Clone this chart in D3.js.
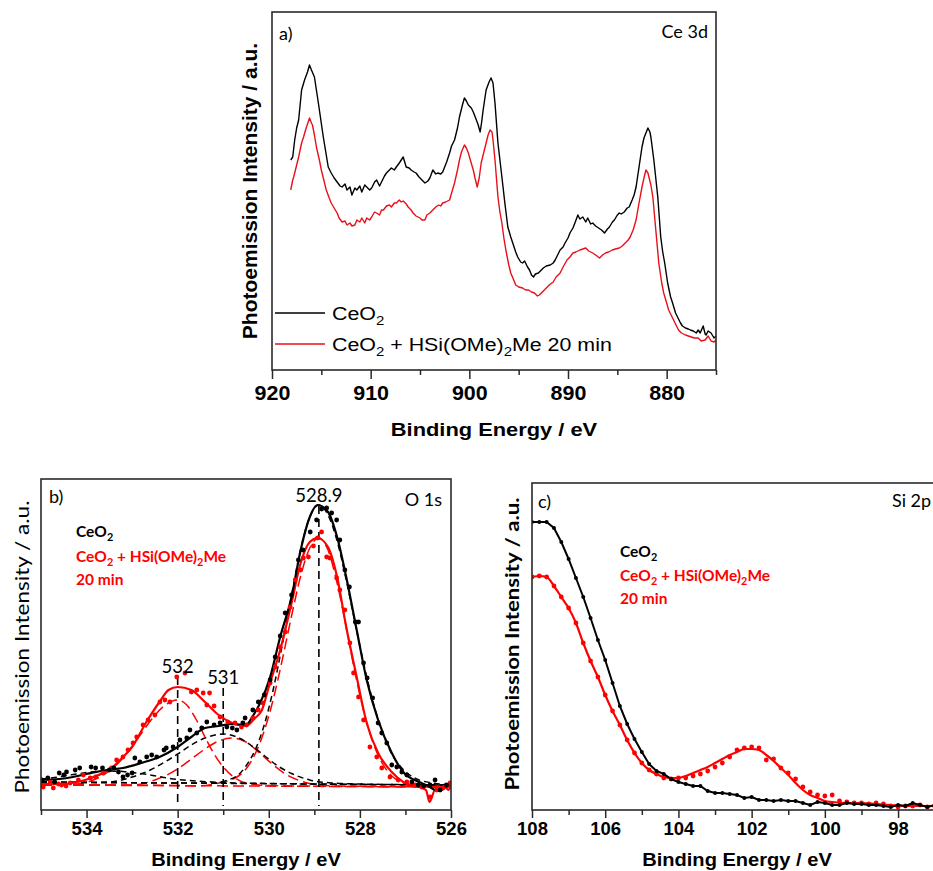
<!DOCTYPE html>
<html>
<head>
<meta charset="utf-8">
<script src="https://cdn.jsdelivr.net/npm/d3@7"></script>
<style>
  body { margin: 0; background: #fff; }
  svg { display: block; }
</style>
</head>
<body>
<svg id="chart" width="933" height="871"></svg>
<script>
// ---------------- Ce 3d spectra: [binding energy (eV), intensity (a.u.)] ----------------
const ce3dCeO2 = [
  [918.1,210],[917.9,213],[917.7,230],[917.5,242],[917.3,250],[917.0,280],[916.7,290],[916.4,298],
  [916.2,305],[916.0,300],[915.7,293],[915.3,267],[914.8,233],[914.3,203],[914.0,197],[913.7,192],
  [913.4,188],[913.1,184],[912.9,183],[912.6,186],[912.4,180],[912.1,183],[911.9,175],[911.6,182],
  [911.4,180],[911.1,184],[910.9,178],[910.6,185],[910.4,183],[910.1,180],[909.9,182],[909.6,188],
  [909.4,190],[909.1,184],[908.9,188],[908.6,194],[908.4,197],[908.1,200],[907.9,202],[907.6,200],
  [907.4,203],[907.1,207],[906.7,213],[906.4,203],[906.1,202],[905.9,200],[905.6,198],[905.4,197],
  [905.1,193],[904.8,190],[904.5,187],[904.2,189],[904.0,192],[903.7,200],[903.4,196],[903.2,197],
  [902.9,196],[902.7,198],[902.5,203],[902.3,208],[902.0,217],[901.8,224],[901.5,230],[901.2,242],
  [901.0,253],[900.7,265],[900.5,272],[900.3,269],[900.1,265],[899.8,262],[899.6,258],[899.4,253],
  [899.1,245],[898.9,238],[898.75,248],[898.6,260],[898.3,280],[898.0,288],[897.8,292],[897.6,287],
  [897.4,267],[897.1,227],[896.9,210],[896.7,193],[896.4,167],[896.1,143],[895.8,133],[895.6,127],
  [895.3,118],[895.1,113],[894.8,108],[894.6,107],[894.4,109],[894.1,103],[893.9,100],[893.7,95],
  [893.5,93],[893.3,96],[893.0,97],[892.8,99],[892.5,102],[892.2,104],[891.8,105],[891.5,107],
  [891.3,110],[891.0,116],[890.8,120],[890.5,123],[890.3,127],[890.0,132],[889.8,137],[889.5,142],
  [889.3,147],[889.0,155],[888.8,151],[888.5,153],[888.2,148],[888.0,152],[887.7,146],[887.5,147],
  [887.2,144],[886.9,142],[886.6,140],[886.3,137],[886.0,141],[885.8,143],[885.5,148],[885.3,150],
  [885.0,155],[884.8,157],[884.6,156],[884.3,158],[884.0,162],[883.8,163],[883.5,170],[883.3,175],
  [883.1,183],[882.8,203],[882.5,223],[882.3,232],[882.1,237],[881.9,242],[881.7,238],[881.6,233],
  [881.3,210],[880.9,173],[880.6,133],[880.4,118],[880.2,107],[879.9,87],[879.6,73],[879.4,67],
  [879.1,57],[878.8,51],[878.6,47],[878.4,44],[878.1,42],[877.8,41],[877.6,40],[877.3,39],
  [877.0,37],[876.8,40],[876.6,37],[876.3,44],[876.1,36],[876.0,35],[875.8,39],[875.5,37],
  [875.2,32],[875.0,34]
];
const ce3dTreated = [
  [918.1,180],[917.9,190],[917.8,193],[917.5,205],[917.3,213],[917.0,227],[916.8,233],[916.6,240],
  [916.4,246],[916.2,252],[916.0,247],[915.9,245],[915.7,235],[915.5,223],[915.2,210],[915.0,200],
  [914.7,188],[914.5,180],[914.2,172],[914.0,167],[913.7,162],[913.4,157],[913.2,152],[912.9,148],
  [912.6,149],[912.4,145],[912.1,147],[911.9,144],[911.6,145],[911.4,150],[911.1,148],[910.9,152],
  [910.6,147],[910.4,152],[910.1,150],[909.9,153],[909.6,158],[909.4,157],[909.1,155],[908.9,160],
  [908.7,160],[908.4,164],[908.1,165],[907.9,163],[907.6,167],[907.4,167],[907.1,170],[906.9,168],
  [906.7,169],[906.4,166],[906.2,163],[905.9,160],[905.7,157],[905.4,154],[905.0,152],[904.8,150],
  [904.5,150],[904.3,155],[904.0,157],[903.7,160],[903.4,163],[903.1,165],[902.9,164],[902.7,167],
  [902.4,168],[902.0,170],[901.8,177],[901.5,187],[901.2,200],[901.0,210],[900.8,218],[900.5,225],
  [900.3,222],[900.1,217],[899.9,210],[899.6,200],[899.4,191],[899.2,183],[899.0,192],[898.8,207],
  [898.6,215],[898.3,227],[898.1,235],[897.9,240],[897.7,238],[897.6,230],[897.4,210],[897.1,173],
  [896.9,158],[896.7,147],[896.5,132],[896.3,120],[896.0,105],[895.8,97],[895.5,90],[895.3,85],
  [895.0,83],[894.6,82],[894.3,80],[894.0,80],[893.7,78],[893.4,77],[893.1,74],[892.9,75],
  [892.6,78],[892.2,82],[891.9,85],[891.5,88],[891.2,93],[890.8,97],[890.5,103],[890.1,110],
  [889.8,113],[889.5,117],[889.2,118],[888.8,120],[888.5,121],[888.2,122],[887.9,119],[887.5,117],
  [887.2,115],[886.8,112],[886.5,115],[886.2,117],[885.9,118],[885.5,120],[885.2,121],[884.8,122],
  [884.5,124],[884.2,127],[883.9,130],[883.7,133],[883.4,140],[883.1,150],[882.8,167],[882.5,183],
  [882.3,192],[882.1,200],[881.9,197],[881.8,193],[881.6,185],[881.4,173],[881.1,140],[880.8,107],
  [880.5,87],[880.3,77],[880.0,67],[879.8,60],[879.5,54],[879.3,50],[879.0,44],[878.8,40],
  [878.5,37],[878.1,35],[877.8,34],[877.5,33],[877.2,32],[876.8,32],[876.5,29],[876.1,30],
  [875.8,34],[875.5,29],[875.2,28],[875.0,30]
];
const ce3dMajorTicks = [920, 910, 900, 890, 880];
const ce3dMinorTicks = [915, 905, 895, 885, 875];

// ---------------- O 1s: measured points and peak fits ----------------
const o1sCeO2Points = [
  [534.98,28],[534.85,30],[534.7,26],[534.6,35],[534.5,33],[534.44,36],[534.25,38],[534.15,40],
  [533.9,41],[533.8,40],[533.65,40],[533.5,38],[533.4,40],[533.3,36],[533.2,31],[533.1,33],
  [533.0,35],[532.94,50],[532.83,46],[532.68,51],[532.57,53],[532.46,51],[532.3,58],[532.25,60],
  [532.1,61],[531.95,68],[531.8,70],[531.73,78],[531.58,75],[531.47,80],[531.36,86],[531.2,83],
  [531.07,85],[530.92,81],[530.8,80],[530.7,78],[530.57,85],[530.52,90],[530.35,98],[530.23,106],
  [530.1,113],[529.97,128],[529.86,151],[529.75,172],[529.64,195],[529.5,213],[529.35,248],[529.25,258],
  [529.09,276],[528.95,288],[528.84,299],[528.73,300],[528.62,295],[528.51,288],[528.44,268],[528.33,238],
  [528.23,221],[528.1,186],[528.03,186],[527.92,145],[527.84,130],[527.72,110],[527.6,85],[527.52,75],
  [527.41,65],[527.3,43],[527.19,41],[527.08,36],[526.97,33],[526.86,26],[526.72,23],[526.6,22],
  [526.46,23],[526.35,28],[526.24,18],[526.1,23]
];
const o1sTreatedPoints = [
  [534.95,21],[534.8,26],[534.73,20],[534.62,24],[534.55,23],[534.45,22],[534.36,25],[534.18,28],
  [534.07,33],[533.92,30],[533.8,31],[533.64,35],[533.45,40],[533.34,48],[533.2,51],[533.09,58],
  [532.98,65],[532.9,71],[532.76,83],[532.65,88],[532.5,93],[532.39,106],[532.28,108],[532.17,106],
  [532.02,131],[531.84,135],[531.7,116],[531.58,118],[531.44,115],[531.36,103],[531.3,115],[531.2,102],
  [531.07,91],[530.9,86],[530.74,85],[530.6,81],[530.49,83],[530.35,90],[530.23,98],[530.13,105],
  [529.97,125],[529.86,141],[529.75,161],[529.64,176],[529.53,201],[529.42,228],[529.3,238],[529.24,250],
  [529.13,251],[529.02,262],[528.93,270],[528.84,276],[528.73,251],[528.66,250],[528.51,230],[528.44,218],
  [528.33,198],[528.22,165],[528.14,135],[528.03,111],[527.92,88],[527.78,61],[527.63,51],[527.52,40],
  [527.34,31],[527.16,28],[526.97,26],[526.79,23],[526.64,21],[526.46,11],[526.31,18],[526.17,20],
  [526.02,25]
];
const o1sCeO2Envelope = [
  [535.0,28],[534.6,29],[534.3,31],[534.0,34],[533.55,38],[533.2,40],[532.8,45],[532.4,51],
  [532.0,61],[531.7,71],[531.4,80],[531.1,82],[530.8,84],[530.5,83],[530.35,92],[530.2,104],
  [529.97,131],[529.75,171],[529.5,211],[529.3,258],[529.1,291],[528.93,303],[528.7,296],[528.5,271],
  [528.3,231],[528.07,178],[527.85,128],[527.6,88],[527.3,55],[527.05,36],[526.7,26],[526.5,22],
  [526.35,18],[526.25,17],[526.1,22],[526.0,26]
];
const o1sTreatedEnvelope = [
  [535.0,24],[534.6,24],[534.2,26],[533.9,30],[533.6,36],[533.4,42],[533.2,51],[533.0,61],
  [532.7,85],[532.4,106],[532.2,118],[532.0,121],[531.7,118],[531.4,106],[531.1,93],[530.8,85],
  [530.5,82],[530.3,90],[530.15,98],[530.0,121],[529.75,158],[529.5,205],[529.3,245],[529.1,266],
  [528.93,270],[528.7,261],[528.5,231],[528.3,181],[528.07,131],[527.85,85],[527.6,55],[527.3,36],
  [527.05,26],[526.7,21],[526.55,18],[526.47,6],[526.35,18],[526.25,18],[526.15,22],[526.05,18],
  [526.0,24]
];
// fitted components, CeO2 (short dashes)
const o1sCeO2Background = [[535.0,26],[526.0,23]];
const o1sCeO2Peak533 = [
  [535.0,29],[534.7,30.5],[534.4,32.7],[534.1,34.8],[533.8,36.4],[533.5,37],[533.2,36.5],[532.9,35],
  [532.6,33],[532.3,30.5],[532.0,28.5],[531.6,27],[531.0,25.5],[530.0,24.5],[526.0,23]
];
const o1sCeO2Peak531 = [
  [535.0,26],[534.0,25.5],[533.5,26],[533.0,31],[532.6,38],[532.3,45.5],[532.0,54],[531.7,63],
  [531.4,70],[531.0,74],[530.7,71],[530.4,63],[530.1,52.5],[529.8,42],[529.5,34.5],[529.1,28],
  [528.6,25],[528.0,24],[526.0,23]
];
const o1sCeO2Peak5289 = [
  [535.0,26],[532.0,25],[531.6,25],[531.2,25],[530.9,28],[530.7,32],[530.5,42],[530.3,58],
  [530.1,83],[529.9,119],[529.7,164],[529.5,213],[529.3,259],[529.1,291],[528.9,303],[528.7,293],
  [528.5,267],[528.3,228],[528.1,184],[527.9,141],[527.7,104],[527.5,75],[527.3,54],[527.1,41],
  [526.8,30],[526.4,25],[526.0,23]
];
// fitted components, treated sample (long dashes)
const o1sTreatedBackground = [[535.0,23],[526.0,21]];
const o1sTreatedPeak532 = [
  [535.0,23],[534.2,24],[533.8,29],[533.5,37],[533.2,50],[532.9,68],[532.6,87],[532.3,102],
  [532.0,108],[531.8,103],[531.6,89],[531.4,71],[531.2,54],[531.0,41],[530.8,32],[530.5,25],
  [530.0,22.5],[526.0,21]
];
const o1sTreatedPeak531 = [
  [535.0,23],[533.0,23],[532.5,28],[532.0,39],[531.7,49],[531.4,59],[531.1,67],[530.8,70],
  [530.5,66],[530.2,55],[529.9,43],[529.6,33],[529.3,27],[528.9,23],[528.5,22],[526.0,21]
];
const o1sTreatedPeak5289 = [
  [535.0,23],[532.0,22.5],[531.6,22],[531.2,24],[530.9,27],[530.7,31],[530.5,39],[530.3,54],
  [530.1,77],[529.9,109],[529.7,149],[529.5,192],[529.3,232],[529.1,260],[528.9,270],[528.7,258],
  [528.5,225],[528.3,181],[528.1,134],[527.9,94],[527.7,64],[527.5,44],[527.3,32],[527.1,26],
  [526.8,22],[526.0,21]
];
const o1sPeakLabels = ["532", "531", "528.9"];
const o1sPeakEnergies = [532, 531, 528.9];
const o1sMajorTicks = [534, 532, 530, 528, 526];
const o1sMinorTicks = [535, 533, 531, 529, 527];

// ---------------- Si 2p ----------------
const si2pEnergy = [
  108.0,107.8,107.6,107.4,107.2,107.0,106.8,106.6,106.4,106.2,106.0,105.8,105.6,105.4,
  105.2,105.0,104.8,104.6,104.4,104.2,104.0,103.8,103.6,103.4,103.2,103.0,102.8,102.6,
  102.4,102.2,102.0,101.8,101.6,101.4,101.2,101.0,100.8,100.6,100.4,100.2,100.0,99.8,
  99.6,99.4,99.2,99.0,98.8,98.6,98.4,98.2,98.0,97.8,97.6,97.4,97.2,97.0
];
const si2pCeO2 = [
  286,286,286,280,266,249,230,211,190,168,148,125,102,84,
  69,56,44,37,34,29,26,24,22,22,17,15,15,14,
  13,10,11,8,8,7,8,7,7,5,3,6,5,3,
  3,5,4,4,3,3,2,1,3,2,5,3,1,3
];
const si2pTreated = [
  231,232,231,222,211,200,185,165,147,131,113,97,83,68,
  55,45,38,34,30,29,30,30,32,34,37,41,45,51,
  58,60,61,60,48,49,40,35,29,21,16,13,12,13,
  7,6,5,5,4,5,4,2,1,2,2,3,1,2
];
const si2pTreatedFit = [
  [108.0,231],[107.8,232],[107.6,231],[107.4,222],[107.2,211],[107.0,200],[106.8,185],[106.6,165],
  [106.4,147],[106.2,131],[106.0,113],[105.8,97],[105.6,83],[105.4,68],[105.2,55],[105.0,45],
  [104.8,38],[104.6,34],[104.4,31],[104.2,30],[104.0,30],[103.8,32],[103.6,35],[103.4,38],
  [103.2,41],[103.0,45],[102.8,49],[102.6,53],[102.4,56],[102.2,59],[102.0,59],[101.8,58],
  [101.6,53],[101.4,47],[101.2,40],[101.0,33],[100.8,25],[100.6,18],[100.4,13],[100.2,10],
  [100.0,7],[99.8,6],[99.4,5],[99.0,5],[98.6,4],[98.2,3],[97.8,2],[97.4,2],[97.0,2]
];
const si2pMajorTicks = [108, 106, 104, 102, 100, 98];
const si2pMinorTicks = [107, 105, 103, 101, 99, 97];

const legendCeO2 = "CeO_2";
const legendTreated = "CeO_2 + HSi(OMe)_2Me 20 min";
const legendTreatedLine1 = "CeO_2 + HSi(OMe)_2Me";
const legendTreatedLine2 = "20 min";
const yTitle = "Photoemission Intensity / a.u.";
const xTitle = "Binding Energy / eV";

// ---------------- drawing ----------------
const RED = "#ff0000";
const RED_A = "#e8101a";
const FRAME = "#2a2a2a";
const ARIAL = "'Liberation Sans', Arial, Helvetica, sans-serif";
const CALI = "Lato, 'Open Sans', 'Noto Sans', sans-serif";

const svg = d3.select("#chart");
svg.append("rect").attr("width", 933).attr("height", 871).attr("fill", "#fff");

// text with "_2" style subscripts
function richText(g, str, o) {
  const size = o.size;
  let tf = `translate(${o.x},${o.y})`;
  if (o.rotate) tf += ` rotate(${o.rotate})`;
  if (o.sx) tf += ` scale(${o.sx},1)`;
  const t = g.append("text")
    .attr("transform", tf)
    .attr("font-family", o.family)
    .attr("font-size", size)
    .attr("font-weight", o.weight || "normal")
    .attr("fill", o.fill || "#000")
    .attr("text-anchor", o.anchor || "start");
  const subDy = size * 0.26;
  let lowered = false;
  str.split(/(_\d)/).filter(s => s.length).forEach(tok => {
    if (tok[0] === "_") {
      t.append("tspan").attr("dy", subDy).attr("font-size", size * 0.7).text(tok.slice(1));
      lowered = true;
    } else {
      const s = t.append("tspan").text(tok);
      if (lowered) { s.attr("dy", -subDy); lowered = false; }
    }
  });
  if (o.length) t.attr("textLength", o.length).attr("lengthAdjust", "spacingAndGlyphs");
  return t;
}

function xAxis(g, x, y0, major, minor, o) {
  const gMin = g.append("g").attr("transform", `translate(0,${y0})`)
    .call(d3.axisBottom(x).tickValues(minor).tickSize(o.minorLen).tickFormat(""));
  const gMaj = g.append("g").attr("transform", `translate(0,${y0})`)
    .call(d3.axisBottom(x).tickValues(major).tickSize(o.majorLen).tickFormat(d3.format("d")));
  [gMin, gMaj].forEach(a => {
    a.select(".domain").remove();
    a.selectAll("line").attr("stroke", FRAME).attr("stroke-width", 1.5);
  });
  gMaj.selectAll("text")
    .attr("y", o.labelY).attr("dy", null)
    .attr("font-family", ARIAL).attr("font-weight", "bold")
    .attr("font-size", o.fontSize).attr("fill", "#000")
    .attr("transform", `scale(${o.sx},1)`);
}

function frame(g, x0, x1, y0, y1) {
  g.append("rect").attr("x", x0).attr("y", y0).attr("width", x1 - x0).attr("height", y1 - y0)
    .attr("fill", "none").attr("stroke", FRAME).attr("stroke-width", 1.6);
}

function clip(id, x0, x1, y0, y1) {
  svg.append("clipPath").attr("id", id).append("rect")
    .attr("x", x0).attr("y", y0).attr("width", x1 - x0).attr("height", y1 - y0);
  return `url(#${id})`;
}

// ===== a) Ce 3d =====
{
  const L = 272, R = 716, T = 12, B = 370;
  const x = d3.scaleLinear().domain([920, 875]).range([L, R]);
  const y = d3.scaleLinear().domain([0, 358]).range([B, T]);
  const g = svg.append("g");
  const data = g.append("g").attr("clip-path", clip("clipA", L, R, T, B));
  const line = d3.line().x(d => x(d[0])).y(d => y(d[1]));
  data.append("path").datum(ce3dTreated).attr("d", line)
    .attr("fill", "none").attr("stroke", RED_A).attr("stroke-width", 1.4).attr("stroke-linejoin", "round");
  data.append("path").datum(ce3dCeO2).attr("d", line)
    .attr("fill", "none").attr("stroke", "#000").attr("stroke-width", 1.4).attr("stroke-linejoin", "round");

  xAxis(g, x, B, ce3dMajorTicks, ce3dMinorTicks, { majorLen: 9, minorLen: 5, labelY: 30, fontSize: 19.5, sx: 1.1 });
  frame(g, L, R, T, B);

  richText(g, xTitle, { x: (L + R) / 2, y: 436, size: 19, family: ARIAL, weight: "bold", anchor: "middle", sx: 1.15 });
  richText(g, yTitle, { x: 257, y: (T + B) / 2, size: 21, family: ARIAL, weight: "bold", anchor: "middle", rotate: -90 });
  richText(g, "a)", { x: 279, y: 40, size: 18, family: CALI });
  richText(g, "Ce 3d", { x: 708, y: 38, size: 18, family: CALI, anchor: "end" });

  // legend
  const legend = [[legendCeO2, "#000", 313], [legendTreated, RED_A, 344]];
  legend.forEach(([label, color, ly]) => {
    g.append("line").attr("x1", 275).attr("x2", 325).attr("y1", ly).attr("y2", ly)
      .attr("stroke", color).attr("stroke-width", 1.5);
    richText(g, label, { x: 332, y: ly + 7, size: 18.6, family: ARIAL, sx: 1.15 });
  });
}

// ===== b) O 1s =====
{
  const L = 41, R = 451, T = 479, B = 810;
  const x = d3.scaleLinear().domain([535, 526]).range([L, R]);
  const y = d3.scaleLinear().domain([-2, 329]).range([B, T]);
  const g = svg.append("g");
  const data = g.append("g").attr("clip-path", clip("clipB", L, R, T, B));
  const smooth = d3.line().x(d => x(d[0])).y(d => y(d[1])).curve(d3.curveMonotoneX);

  const shortDash = [o1sCeO2Background, o1sCeO2Peak533, o1sCeO2Peak531, o1sCeO2Peak5289];
  const longDash = [o1sTreatedBackground, o1sTreatedPeak532, o1sTreatedPeak531, o1sTreatedPeak5289];
  longDash.forEach(c => data.append("path").datum(c).attr("d", smooth)
    .attr("fill", "none").attr("stroke", RED).attr("stroke-width", 1.5).attr("stroke-dasharray", "11,5"));
  shortDash.forEach(c => data.append("path").datum(c).attr("d", smooth)
    .attr("fill", "none").attr("stroke", "#000").attr("stroke-width", 1.5).attr("stroke-dasharray", "6,4"));

  // peak position markers
  const labelBaseline = { "532": 673, "531": 684, "528.9": 502 };
  o1sPeakEnergies.forEach((e, i) => {
    const lbl = o1sPeakLabels[i];
    data.append("line").attr("x1", x(e)).attr("x2", x(e))
      .attr("y1", labelBaseline[lbl] + 4).attr("y2", B - 4)
      .attr("stroke", "#000").attr("stroke-width", 1.6).attr("stroke-dasharray", "8,5");
    richText(g, lbl, { x: x(e), y: labelBaseline[lbl], size: 18.5, family: CALI, anchor: "middle" });
  });

  data.append("path").datum(o1sTreatedEnvelope).attr("d", smooth)
    .attr("fill", "none").attr("stroke", RED).attr("stroke-width", 2.2);
  data.append("path").datum(o1sCeO2Envelope).attr("d", smooth)
    .attr("fill", "none").attr("stroke", "#000").attr("stroke-width", 2.2);

  data.selectAll("circle.t").data(o1sTreatedPoints).join("circle").attr("class", "t")
    .attr("cx", d => x(d[0])).attr("cy", d => y(d[1])).attr("r", 2.4).attr("fill", RED);
  data.selectAll("circle.c").data(o1sCeO2Points).join("circle").attr("class", "c")
    .attr("cx", d => x(d[0])).attr("cy", d => y(d[1])).attr("r", 2.4).attr("fill", "#000");

  xAxis(g, x, B, o1sMajorTicks, o1sMinorTicks, { majorLen: 8, minorLen: 5, labelY: 25, fontSize: 18.5, sx: 1.0 });
  frame(g, L, R, T, B);

  richText(g, xTitle, { x: (L + R) / 2, y: 866, size: 18.6, family: ARIAL, weight: "bold", anchor: "middle", sx: 1.08 });
  richText(g, yTitle, { x: 29, y: 647, size: 19, family: CALI, anchor: "middle", rotate: -90, length: 293 });
  richText(g, "b)", { x: 49, y: 503, size: 18, family: CALI });
  richText(g, "O 1s", { x: 442, y: 506, size: 18, family: CALI, anchor: "end" });

  richText(g, legendCeO2, { x: 76, y: 537, size: 15.5, family: CALI, weight: "bold" });
  richText(g, legendTreatedLine1, { x: 76, y: 562, size: 15.5, family: CALI, weight: "bold", fill: RED });
  richText(g, legendTreatedLine2, { x: 76, y: 585, size: 15.5, family: CALI, weight: "bold", fill: RED });
}

// ===== c) Si 2p =====
{
  const L = 532, R = 942, T = 483, B = 810;
  const x = d3.scaleLinear().domain([108, 96.8]).range([L, R]);
  const y = d3.scaleLinear().domain([-2, 325]).range([B, T]);
  const g = svg.append("g");
  const data = g.append("g").attr("clip-path", clip("clipC", L, R, T, B));
  const ceo2 = si2pEnergy.map((e, i) => [e, si2pCeO2[i]]);
  const treated = si2pEnergy.map((e, i) => [e, si2pTreated[i]]);

  data.selectAll("circle.t").data(treated).join("circle").attr("class", "t")
    .attr("cx", d => x(d[0])).attr("cy", d => y(d[1])).attr("r", 2.4).attr("fill", RED);
  data.append("path").datum(si2pTreatedFit)
    .attr("d", d3.line().x(d => x(d[0])).y(d => y(d[1])).curve(d3.curveMonotoneX))
    .attr("fill", "none").attr("stroke", RED).attr("stroke-width", 2.2);
  data.append("path").datum(ceo2)
    .attr("d", d3.line().x(d => x(d[0])).y(d => y(d[1])))
    .attr("fill", "none").attr("stroke", "#000").attr("stroke-width", 2);
  data.selectAll("circle.c").data(ceo2).join("circle").attr("class", "c")
    .attr("cx", d => x(d[0])).attr("cy", d => y(d[1])).attr("r", 2).attr("fill", "#000");

  xAxis(g, x, B, si2pMajorTicks, si2pMinorTicks, { majorLen: 8, minorLen: 5, labelY: 25, fontSize: 18.5, sx: 1.0 });
  frame(g, L, R, T, B);

  richText(g, xTitle, { x: (L + R) / 2, y: 866, size: 18.6, family: ARIAL, weight: "bold", anchor: "middle", sx: 1.08 });
  richText(g, yTitle, { x: 519, y: 644, size: 19, family: CALI, weight: "bold", anchor: "middle", rotate: -90, length: 293 });
  richText(g, "c)", { x: 538, y: 508, size: 18, family: CALI });
  richText(g, "Si 2p", { x: 892, y: 507, size: 18, family: CALI });

  richText(g, legendCeO2, { x: 620, y: 557, size: 15.5, family: CALI, weight: "bold" });
  richText(g, legendTreatedLine1, { x: 620, y: 581, size: 15.5, family: CALI, weight: "bold", fill: RED });
  richText(g, legendTreatedLine2, { x: 620, y: 604, size: 15.5, family: CALI, weight: "bold", fill: RED });
}
</script>
</body>
</html>
